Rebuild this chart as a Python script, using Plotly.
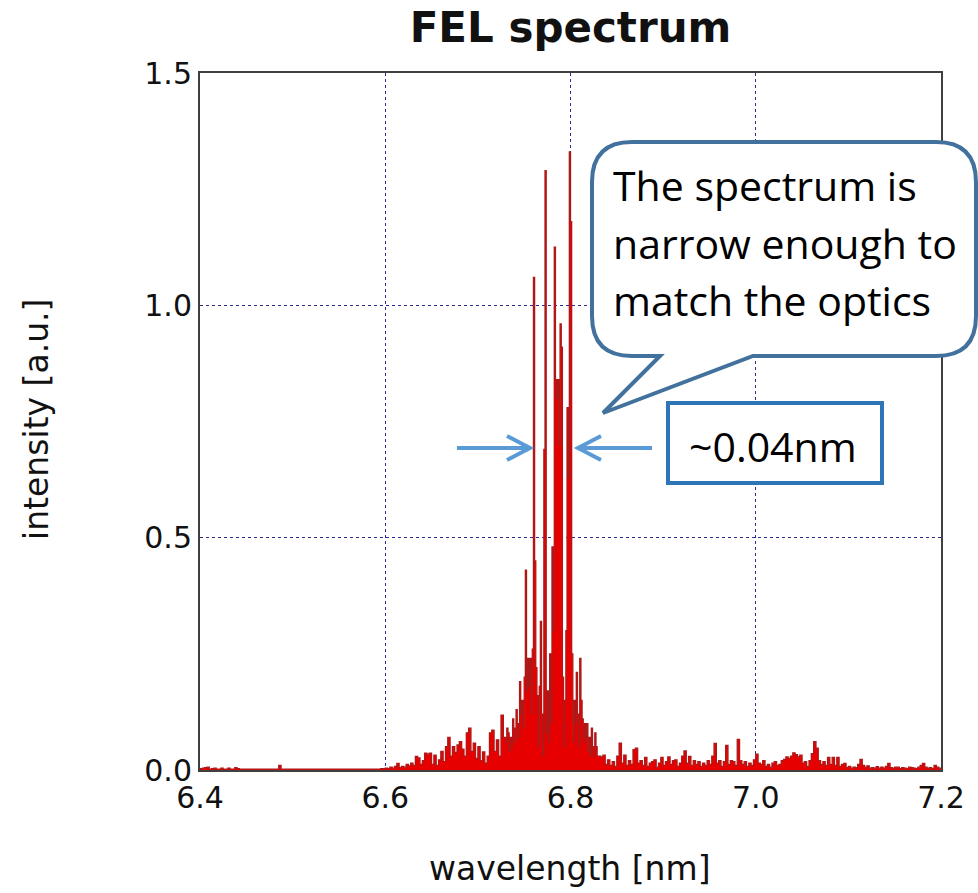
import numpy as np
import plotly.graph_objects as go

# ---------------- data ----------------
# wavelength grid segments: start [nm], step [nm]
left_start, left_step = 6.40, 0.0025
int_left = [0.003, 0.004, 0.005, 0.006, 0.002, 0.003, 0.004, 0.002, 0.002, 0.004,
            0.002, 0.002, 0.004, 0.002, 0.002, 0.005, 0.003, 0.002, 0.002, 0.002,
            0.002, 0.002, 0.002, 0.002, 0.002, 0.002, 0.002, 0.002, 0.002, 0.002,
            0.002, 0.002, 0.002, 0.002, 0.010, 0.002, 0.002, 0.002, 0.002, 0.002,
            0.002, 0.002, 0.002, 0.002, 0.002, 0.002, 0.002, 0.002, 0.002, 0.002,
            0.002, 0.002, 0.002, 0.002, 0.002, 0.002, 0.002, 0.002, 0.002, 0.002,
            0.002, 0.002, 0.002, 0.002, 0.002, 0.002, 0.002, 0.002, 0.002, 0.002,
            0.002, 0.002, 0.002, 0.002, 0.002, 0.002, 0.002, 0.002, 0.003, 0.003]

mid_start, mid_step = 6.60, 0.0025
int_mid = [0.004, 0.003, 0.006, 0.004, 0.008, 0.014, 0.005, 0.008, 0.006, 0.012,
           0.009, 0.015, 0.010, 0.029, 0.026, 0.012, 0.020, 0.036, 0.034, 0.036,
           0.012, 0.032, 0.010, 0.022, 0.040, 0.018, 0.050, 0.070, 0.030, 0.050,
           0.038, 0.054, 0.061, 0.045, 0.030, 0.080, 0.090, 0.040, 0.058, 0.025,
           0.050, 0.020, 0.039, 0.015, 0.030, 0.080, 0.086, 0.040, 0.065, 0.030,
           0.118, 0.070]

core_start, core_step = 6.73, 0.00125
int_core = [0.06, 0.09, 0.08, 0.04, 0.07, 0.05, 0.11, 0.09, 0.06, 0.13,
            0.10, 0.07, 0.19, 0.12, 0.15, 0.09, 0.20, 0.43, 0.17, 0.24,
            0.18, 0.24, 0.12, 0.26, 1.06, 0.45, 0.22, 0.16, 0.05, 0.18,
            0.32, 0.12, 0.03, 0.69, 1.29, 0.08, 0.17, 0.06, 0.25, 0.10,
            0.48, 0.30, 1.125, 0.84, 0.80, 0.84, 0.70, 0.96, 0.91, 0.20,
            0.05, 0.15, 0.30, 0.78, 0.63, 1.33, 1.18, 0.25, 0.06, 0.15,
            0.10, 0.21, 0.12, 0.05, 0.24, 0.15, 0.11, 0.06, 0.10, 0.07,
            0.10, 0.04, 0.07, 0.03, 0.09, 0.05, 0.03, 0.08, 0.05, 0.03]

right_start, right_step = 6.83, 0.0025
int_right = [0.030, 0.028, 0.032, 0.012, 0.022, 0.010, 0.018, 0.008, 0.030, 0.058,
             0.015, 0.032, 0.010, 0.020, 0.012, 0.044, 0.047, 0.015, 0.020, 0.010,
             0.027, 0.008, 0.015, 0.018, 0.022, 0.006, 0.015, 0.027, 0.010, 0.018,
             0.028, 0.012, 0.020, 0.022, 0.008, 0.015, 0.030, 0.041, 0.015, 0.029,
             0.010, 0.020, 0.012, 0.018, 0.008, 0.015, 0.010, 0.020, 0.012, 0.030,
             0.057, 0.015, 0.020, 0.008, 0.018, 0.053, 0.012, 0.020, 0.018, 0.010,
             0.066, 0.020, 0.012, 0.018, 0.008, 0.015, 0.010, 0.022, 0.034, 0.015,
             0.012, 0.020, 0.008, 0.012, 0.006, 0.015, 0.018, 0.010, 0.012, 0.020,
             0.023, 0.028, 0.025, 0.030, 0.037, 0.033, 0.028, 0.032, 0.015, 0.018,
             0.008, 0.020, 0.035, 0.061, 0.047, 0.020, 0.012, 0.018, 0.010, 0.027,
             0.012, 0.027, 0.010, 0.027, 0.008, 0.012, 0.014, 0.005, 0.008, 0.004,
             0.006, 0.005, 0.012, 0.023, 0.010, 0.006, 0.009, 0.004, 0.005, 0.004,
             0.007, 0.004, 0.006, 0.004, 0.008, 0.014, 0.005, 0.004, 0.006, 0.006,
             0.003, 0.005, 0.004, 0.003, 0.006, 0.005, 0.004, 0.003, 0.006, 0.010,
             0.014, 0.006, 0.004, 0.005, 0.003, 0.010, 0.006, 0.004, 0.003]

x_ticks = [6.4, 6.6, 6.8, 7.0, 7.2]
y_ticks = [0.0, 0.5, 1.0, 1.5]

title_text = "<b>FEL spectrum</b>"
x_title = "wavelength [nm]"
y_title = "intensity [a.u.]"
bubble_lines = ["The spectrum is", "narrow enough to", "match the optics"]
width_label = "~0.04nm"

# ---------------- build series ----------------
def seg(start, step, vals):
    return [round(start + step * i, 5) for i in range(len(vals))]

wl = (seg(left_start, left_step, int_left) + seg(mid_start, mid_step, int_mid)
      + seg(core_start, core_step, int_core) + seg(right_start, right_step, int_right))
inten = int_left + int_mid + int_core + int_right

W, H = 978, 893
L_M, R_M, T_M, B_M = 200, 37, 73, 123
PW, PH = W - L_M - R_M, H - T_M - B_M


def px(x):
    return (x - L_M) / PW


def py(y):
    return (H - B_M - y) / PH


fig = go.Figure()
fig.add_trace(go.Scatter(x=wl, y=inten, mode="lines", line_shape="hv",
                         fill="tozeroy", fillcolor="#e60000",
                         line=dict(color="#b01818", width=1.3), showlegend=False))

tick_font = dict(family="DejaVu Sans", size=30, color="#111111")
axis_common = dict(showline=True, mirror=True, linecolor="#404040", linewidth=2,
                   showgrid=True, gridcolor="#2d2d8f", griddash="dot", gridwidth=1,
                   zeroline=False, ticks="", tickfont=tick_font, tickformat=".1f")

fig.update_layout(
    width=W, height=H,
    margin=dict(l=L_M, r=R_M, t=T_M, b=B_M),
    paper_bgcolor="white", plot_bgcolor="white",
    title=dict(text=title_text, x=0.5, xref="paper", y=1 - 27 / H, yref="container",
               xanchor="center", yanchor="middle",
               font=dict(family="DejaVu Sans", size=42, color="#111111")),
    xaxis=dict(range=[6.4, 7.2], tickvals=x_ticks, **axis_common),
    yaxis=dict(range=[0, 1.5], tickvals=y_ticks, **axis_common),
)

# axis titles
fig.add_annotation(text=x_title, xref="paper", yref="paper", x=px(570), y=py(868),
                   showarrow=False, xanchor="center", yanchor="middle",
                   font=dict(family="DejaVu Sans", size=33, color="#111111"))
fig.add_annotation(text=y_title, xref="paper", yref="paper", x=px(37), y=py(420),
                   showarrow=False, xanchor="center", yanchor="middle", textangle=-90,
                   font=dict(family="DejaVu Sans", size=33, color="#111111"))

# speech bubble
bl, bt, br, bb, r = 592, 142, 976, 356, 40
tail_l, tail_r, tip = 660, 753, (603, 413)


def P(x, y):
    return f"{px(x):.5f},{py(y):.5f}"


path = (f"M {P(bl + r, bt)} L {P(br - r, bt)} Q {P(br, bt)} {P(br, bt + r)} "
        f"L {P(br, bb - r)} Q {P(br, bb)} {P(br - r, bb)} L {P(tail_r, bb)} "
        f"L {P(*tip)} L {P(tail_l, bb)} L {P(bl + r, bb)} Q {P(bl, bb)} {P(bl, bb - r)} "
        f"L {P(bl, bt + r)} Q {P(bl, bt)} {P(bl + r, bt)} Z")
fig.add_shape(type="path", path=path, xref="paper", yref="paper",
              line=dict(color="#41719c", width=4), fillcolor="white", layer="above")
for i, (t, yc) in enumerate(zip(bubble_lines, [185, 243, 300])):
    fig.add_annotation(text=t, xref="paper", yref="paper", x=px(611), y=py(yc),
                       showarrow=False, xanchor="left", yanchor="middle",
                       font=dict(family="Open Sans", size=41, color="black"))

# width box
fig.add_shape(type="rect", xref="paper", yref="paper", x0=px(668), x1=px(882),
              y0=py(483), y1=py(403), line=dict(color="#2e75b6", width=4),
              fillcolor="white", layer="above")
fig.add_annotation(text=width_label, xref="paper", yref="paper", x=px(773), y=py(446),
                   showarrow=False, xanchor="center", yanchor="middle",
                   font=dict(family="Open Sans", size=41, color="black"))

# arrows (open chevron heads)
ay = 448
left_arrow = (f"M {P(457, ay)} L {P(529, ay)} M {P(507, ay - 12)} L {P(530, ay)} "
              f"L {P(507, ay + 12)}")
right_arrow = (f"M {P(652, ay)} L {P(579, ay)} M {P(601, ay - 12)} L {P(578, ay)} "
               f"L {P(601, ay + 12)}")
for pth in (left_arrow, right_arrow):
    fig.add_shape(type="path", path=pth, xref="paper", yref="paper",
                  line=dict(color="#5b9bd5", width=4), layer="above")

fig.write_html("out.html")
